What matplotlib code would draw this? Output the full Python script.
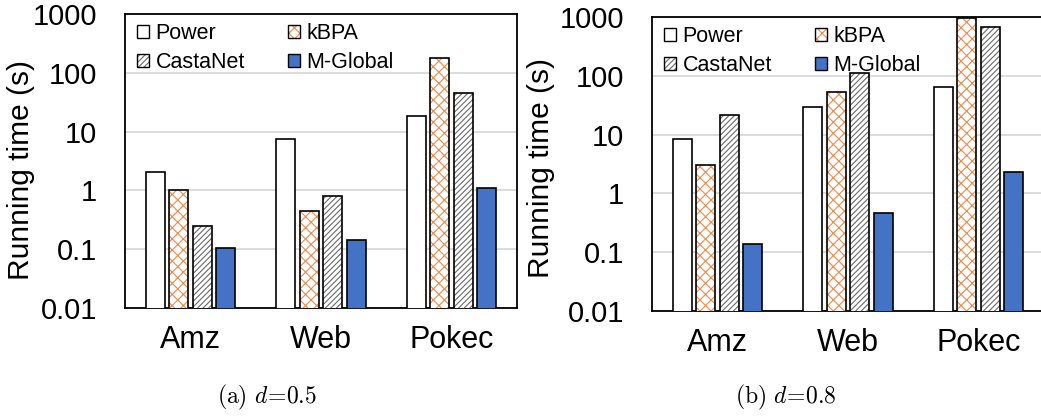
import numpy as np
import matplotlib
matplotlib.use('Agg')
import matplotlib.pyplot as plt
from matplotlib.patches import Patch
from matplotlib.ticker import FixedLocator, FixedFormatter

plt.rcParams['font.family'] = ['Liberation Sans', 'DejaVu Sans']
plt.rcParams['mathtext.fontset'] = 'cm'
plt.rcParams['hatch.linewidth'] = 0.8

# Data
categories = ['Amz', 'Web', 'Pokec']
methods = ['Power', 'kBPA', 'CastaNet', 'M-Global']

# (a) d=0.5
power_a = [2.06, 7.4, 18.7]
kbpa_a = [1.0, 0.45, 176]
castanet_a = [0.245, 0.79, 45]
mglobal_a = [0.102, 0.144, 1.1]

# (b) d=0.8
power_b = [8.55, 29.6, 65]
kbpa_b = [3.03, 52, 960]
castanet_b = [21.4, 112, 665]
mglobal_b = [0.137, 0.455, 2.28]

ytick_vals = [0.01, 0.1, 1, 10, 100, 1000]
ytick_labels = ['0.01', '0.1', '1', '10', '100', '1000']

blue = '#4472C4'
orange = '#F08A4B'
gray = '#6a6a6a'

fig = plt.figure(figsize=(10.41, 4.16), dpi=100)
ax1 = fig.add_axes([125/1041, 108/416, 392/1041, 294/416])
ax2 = fig.add_axes([652/1041, 105/416, 392/1041, 294/416])


def draw_panel(ax, series, label_xy):
    x = np.arange(len(categories))
    w = 0.145
    step = 0.18
    offs = [-1.5*step, -0.5*step, 0.5*step, 1.5*step]
    power, kbpa, castanet, mglobal = series
    bot = 0.001
    ax.bar(x + offs[0], power, w, bottom=bot, color='white', edgecolor='black', linewidth=1.2, zorder=3)
    # kBPA: orange pattern, then black outline
    ax.bar(x + offs[1], kbpa, w, bottom=bot, color='white', edgecolor=orange, hatch='xxx', linewidth=0, zorder=3)
    ax.bar(x + offs[1], kbpa, w, bottom=bot, color='none', edgecolor='black', linewidth=1.2, zorder=4)
    # CastaNet: gray diagonal lines
    ax.bar(x + offs[2], castanet, w, bottom=bot, color='white', edgecolor=gray, hatch='//////', linewidth=0, zorder=3)
    ax.bar(x + offs[2], castanet, w, bottom=bot, color='none', edgecolor='black', linewidth=1.2, zorder=4)
    ax.bar(x + offs[3], mglobal, w, bottom=bot, color=blue, edgecolor='black', linewidth=1.2, zorder=3)

    ax.set_yscale('log')
    ax.set_ylim(0.01, 1000)
    ax.set_xlim(-0.5, 2.5)
    ax.yaxis.set_major_locator(FixedLocator(ytick_vals))
    ax.yaxis.set_major_formatter(FixedFormatter(ytick_labels))
    ax.yaxis.set_minor_locator(FixedLocator([]))
    ax.set_xticks(x)
    ax.set_xticklabels(categories)
    ax.tick_params(axis='both', length=0)
    ax.tick_params(axis='y', pad=20, labelsize=21)
    ax.tick_params(axis='x', pad=12, labelsize=22)
    ax.grid(axis='y', color='#d9d9d9', linewidth=1.3, zorder=0)
    for s in ax.spines.values():
        s.set_linewidth(1.3)
        s.set_color('black')
    ax.set_ylabel('Running time (s)', fontsize=21.5)
    ax.yaxis.set_label_coords(*label_xy)

    h_power = Patch(facecolor='white', edgecolor='black', linewidth=1.0)
    h_kbpa = (Patch(facecolor='white', edgecolor=orange, hatch='xxx', linewidth=0),
              Patch(facecolor='none', edgecolor='black', linewidth=1.0))
    h_casta = (Patch(facecolor='white', edgecolor=gray, hatch='//////', linewidth=0),
               Patch(facecolor='none', edgecolor='black', linewidth=1.0))
    h_mg = Patch(facecolor=blue, edgecolor='black', linewidth=1.0)
    ax.legend([h_power, h_casta, h_kbpa, h_mg], ['Power', 'CastaNet', 'kBPA', 'M-Global'],
              ncol=2, loc='upper left', bbox_to_anchor=(0.015, 0.99), frameon=False,
              fontsize=15.5, handlelength=0.55, handleheight=0.55, handletextpad=0.3,
              columnspacing=2.0, labelspacing=0.35, borderpad=0.2, borderaxespad=0.1)


draw_panel(ax1, [power_a, kbpa_a, castanet_a, mglobal_a], (-0.23, 0.47))
draw_panel(ax2, [power_b, kbpa_b, castanet_b, mglobal_b], (-0.247, 0.486))

fig.text(267/1041, 19/416, r'$\mathrm{(a)}\ d\!=\!0.5$', ha='center', va='center', fontsize=17)
fig.text(786/1041, 19/416, r'$\mathrm{(b)}\ d\!=\!0.8$', ha='center', va='center', fontsize=17)

fig.savefig('out.png', dpi=100)
